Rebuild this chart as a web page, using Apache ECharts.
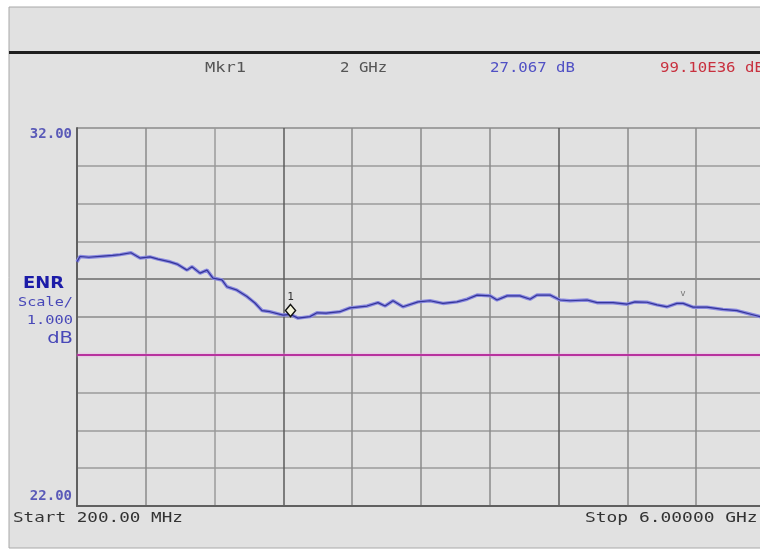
<!DOCTYPE html>
<html><head><meta charset="utf-8">
<script src="https://cdn.jsdelivr.net/npm/echarts@6/dist/echarts.min.js"></script>
<style>html,body{margin:0;padding:0;background:#fff}#c{width:760px;height:550px}</style>
</head><body><div id="c"></div>
<script>
// Frequency (GHz) and ENR (dB)
var freqGHz = [0.2,0.225,0.3,0.419,0.5,0.5625,0.655,0.731,0.815,0.883,0.984,1.043,1.127,1.169,1.237,1.296,1.346,1.422,1.464,1.549,1.633,1.700,1.760,1.827,1.937,2.0,2.063,2.164,2.223,2.3,2.417,2.501,2.645,2.737,2.797,2.864,2.948,3.075,3.176,3.285,3.403,3.488,3.572,3.682,3.741,3.825,3.935,4.002,4.019,4.078,4.188,4.272,4.356,4.499,4.584,4.719,4.837,4.904,5.005,5.090,5.174,5.258,5.309,5.393,5.511,5.646,5.764,5.873,5.958,6.0];
var enrDb   = [28.46,28.60,28.58,28.61,28.63,28.65,28.70,28.56,28.59,28.53,28.46,28.40,28.24,28.33,28.16,28.24,28.03,27.98,27.80,27.71,27.54,27.37,27.17,27.14,27.05,27.067,26.97,27.01,27.11,27.10,27.14,27.24,27.29,27.38,27.29,27.43,27.27,27.40,27.43,27.36,27.40,27.47,27.58,27.56,27.45,27.56,27.56,27.49,27.47,27.58,27.58,27.45,27.43,27.45,27.38,27.38,27.34,27.40,27.39,27.32,27.27,27.36,27.36,27.26,27.26,27.20,27.17,27.08,27.01,26.99];
var limitLineDb = [26];
var marker1 = [2.0, 27.067];
var marker2 = [5.309, 27.36];
var yTickLabels = {32: '32.00', 22: '22.00'};
var headerTexts = ['Mkr1', '2 GHz', '27.067 dB', '99.10E36 dB'];
var startText = 'Start 200.00 MHz';
var stopText = 'Stop 6.00000 GHz';
var scaleTexts = ['ENR', 'Scale/', '1.000', 'dB'];

var pts = freqGHz.map(function(f, i){ return [f, enrDb[i]]; });
var mono = '"DejaVu Sans Mono", monospace';
var sans = '"DejaVu Sans", sans-serif';
var vCols = ['#555','#8a8a8a','#9a9a9a','#5a5a5a','#8a8a8a','#8a8a8a','#8a8a8a','#5a5a5a','#8a8a8a','#8a8a8a','#555'];
var hCols = ['#555','#9a9a9a','#9a9a9a','#9a9a9a','#9a9a9a','#8a8a8a','#6a6a6a','#9a9a9a','#9a9a9a','#9a9a9a','#8a8a8a'];

function txt(x, y, s, font, fill, sx, align) {
  return {type: 'text', x: x, y: y, scaleX: sx, scaleY: 1,
    style: {text: s, font: font, fill: fill, align: align || 'left', verticalAlign: 'middle'}};
}

var chart = echarts.init(document.getElementById('c'), null, {renderer:'canvas'});
chart.setOption({
  animation: false,
  backgroundColor: '#ffffff',
  grid: {left: 77, top: 128, width: 688, height: 378, outerBoundsMode: 'none', containLabel: false},
  xAxis: {
    type: 'value', min: 0.2, max: 6.0, interval: 0.58,
    axisLine: {show: true, lineStyle: {color: '#606060', width: 2}},
    axisTick: {show: false}, axisLabel: {show: false},
    splitLine: {show: true, lineStyle: {color: vCols, width: 1.5}}
  },
  yAxis: {
    type: 'value', min: 22, max: 32, interval: 1,
    axisLine: {show: true, lineStyle: {color: '#606060', width: 2}},
    axisTick: {show: false},
    axisLabel: {
      show: true, margin: 5,
      formatter: function(v){ if (v === 32) return '{t|' + yTickLabels[32] + '}'; if (v === 22) return '{b|' + yTickLabels[22] + '}'; return ''; },
      rich: {
        t: {fontFamily: mono, fontSize: 14, fontWeight: 'bold', color: '#5a5ab8', padding: [12,0,0,0]},
        b: {fontFamily: mono, fontSize: 14, fontWeight: 'bold', color: '#5a5ab8', padding: [0,0,20,0]}
      }
    },
    splitLine: {show: true, lineStyle: {color: hCols, width: 1.5}}
  },
  graphic: [
    {type: 'rect', z: -10, shape: {x: 9, y: 7, width: 760, height: 541}, style: {fill: '#e1e1e1', stroke: '#a8a8a8', lineWidth: 1}},
    {type: 'rect', z: -9, shape: {x: 9, y: 51, width: 760, height: 3}, style: {fill: '#1e1e1e'}},
    txt(205, 68, headerTexts[0], '14px ' + mono, '#555', 1.22),
    txt(340, 68, headerTexts[1], '14px ' + mono, '#555', 1.12),
    txt(490, 68, headerTexts[2], '14px ' + mono, '#5050c4', 1.12),
    txt(660, 68, headerTexts[3], '14px ' + mono, '#c8303e', 1.12),
    txt(13, 518, startText, '14px ' + mono, '#333', 1.26),
    txt(585, 518, stopText, '14px ' + mono, '#333', 1.28),
    txt(64, 284, scaleTexts[0], 'bold 16px ' + sans, '#1c1ca8', 1.12, 'right'),
    txt(73, 303, scaleTexts[1], '13px ' + mono, '#4848b8', 1.17, 'right'),
    txt(73, 321, scaleTexts[2], '13px ' + mono, '#4848b8', 1.18, 'right'),
    txt(73, 339, scaleTexts[3], '15px ' + sans, '#4848b8', 1.3, 'right')
  ],
  series: [
    {
      type: 'line', data: pts, symbol: 'none', z: 3,
      lineStyle: {color: '#8a8ae0', width: 3.5},
      markLine: {
        silent: true, symbol: 'none', label: {show: false},
        lineStyle: {color: '#b8329e', width: 2, type: 'solid', shadowColor: '#f0a8e8', shadowBlur: 3},
        data: [{yAxis: limitLineDb[0]}]
      }
    },
    {
      type: 'line', data: pts, symbol: 'none', z: 4,
      lineStyle: {color: '#34349a', width: 1.2},
      markPoint: {
        data: [
          {coord: marker1, symbol: 'diamond', symbolSize: [10, 12], symbolOffset: [0, -4],
           itemStyle: {color: '#f4f4dc', borderColor: '#111', borderWidth: 1.5},
           label: {show: true, formatter: '1', position: 'top', distance: 1, color: '#333', fontFamily: mono, fontSize: 11}},
          {coord: marker2, symbol: 'circle', symbolSize: 1, symbolOffset: [0, -10],
           itemStyle: {color: 'rgba(0,0,0,0)'},
           label: {show: true, formatter: 'v', position: 'inside', color: '#777', fontFamily: mono, fontSize: 9}}
        ]
      }
    }
  ]
});
</script></body></html>
